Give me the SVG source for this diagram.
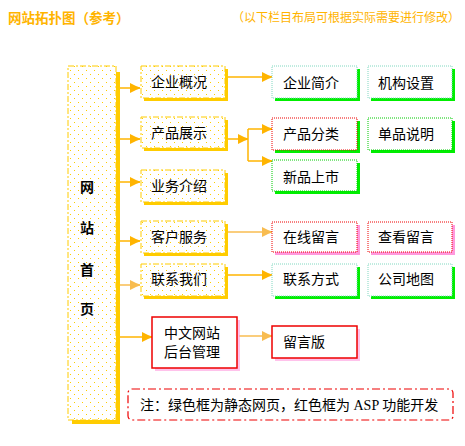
<svg xmlns="http://www.w3.org/2000/svg" width="465" height="446" viewBox="0 0 465 446">
<defs>
<pattern id="dots" width="8" height="8" patternUnits="userSpaceOnUse">
<rect x="2" y="2" width="1" height="1" fill="#FFCC00"/>
<rect x="6" y="6" width="1" height="1" fill="#FFCC00"/>
</pattern>
<marker id="ah" markerUnits="userSpaceOnUse" markerWidth="11" markerHeight="11" refX="10" refY="5" orient="auto">
<path d="M0,0 L6,3 L10,4.5 L10,5.5 L6,7 L0,10 Z" fill="#FFB400"/>
</marker>
<marker id="ahl" markerUnits="userSpaceOnUse" markerWidth="11" markerHeight="11" refX="10" refY="5" orient="auto">
<path d="M0,0 L6,3 L10,4.5 L10,5.5 L6,7 L0,10 Z" fill="#F8BC50"/>
</marker>
</defs>
<style>
text{font-family:"Liberation Serif","Noto Sans CJK SC",serif;font-size:14px;fill:#000}
.ttl{fill:#FFB400;font-weight:bold;font-size:13.5px}
.sub{fill:#FFB400;font-size:12px}
.col{font-weight:bold;text-anchor:middle}
.ysh{fill:#FFCC00}
.gsh{fill:#00EE00}
.psh{fill:#FF99DD}
.ybox{fill:url(#dots);stroke:#FFCC00;stroke-width:1;stroke-dasharray:6,2,2,2}
.gbox{fill:#fff;stroke:#00CC00;stroke-width:1;stroke-dasharray:1,1}
.tbox{fill:#fff;stroke:#80D8C0;stroke-width:1;stroke-dasharray:1,1}
.rbox{fill:#fff;stroke:#EE0000;stroke-width:1;stroke-dasharray:1,1}
.rsolid{fill:#fff;stroke:#EE0000;stroke-width:1.5}
.c{fill:none;stroke:#FFB400;stroke-width:1.5}
.cl{fill:none;stroke:#F8BC50;stroke-width:1.5}
.note{fill:#fff;stroke:#EE0000;stroke-width:1.2;stroke-dasharray:8,3,2,3}
</style>

<text class="ttl" x="8" y="23">网站拓扑图（参考）</text>
<text class="sub" x="232" y="22">（以下栏目布局可根据实际需要进行修改）</text>

<g id="connectors">
<path class="c" d="M120,88 H140" marker-end="url(#ah)"/>
<path class="c" d="M120,139 H140" marker-end="url(#ah)"/>
<path class="c" d="M120,182 H140" marker-end="url(#ah)"/>
<path class="c" d="M120,241 H140" marker-end="url(#ah)"/>
<path class="cl" d="M120,285 H140" marker-end="url(#ahl)"/>
<path class="c" d="M120,337 H152" marker-end="url(#ah)"/>
<path class="c" d="M228,77 H272" marker-end="url(#ah)"/>
<path class="c" d="M228,139 H248" marker-end="url(#ah)"/>
<path class="c" d="M248,129 V161"/>
<path class="c" d="M248,129 H272" marker-end="url(#ah)"/>
<path class="c" d="M248,161 H272" marker-end="url(#ah)"/>
<path class="cl" d="M228,232 H272" marker-end="url(#ahl)"/>
<path class="c" d="M228,275 H272" marker-end="url(#ah)"/>
<path class="cl" d="M239,336 H272" marker-end="url(#ahl)"/>
</g>

<g id="home">
<rect class="ysh" x="72" y="72" width="48" height="352"/>
<rect x="68" y="66" width="48" height="354" fill="#fff"/>
<rect class="ybox" x="68" y="66" width="48" height="354"/>
<text class="col" x="87" y="192">网</text>
<text class="col" x="87" y="233">站</text>
<text class="col" x="87" y="275">首</text>
<text class="col" x="87" y="314">页</text>
</g>

<g id="n-qygk">
<rect class="ysh" x="144" y="69" width="84" height="32"/>
<rect x="141" y="66" width="84" height="32" fill="#fff"/>
<rect class="ybox" x="141" y="66" width="84" height="32"/>
<text x="151" y="87">企业概况</text>
</g>
<g id="n-cpzs">
<rect class="ysh" x="144" y="120" width="84" height="31"/>
<rect x="141" y="117" width="84" height="31" fill="#fff"/>
<rect class="ybox" x="141" y="117" width="84" height="31"/>
<text x="151" y="138">产品展示</text>
</g>
<g id="n-ywjs">
<rect class="ysh" x="144" y="173" width="84" height="32"/>
<rect x="141" y="170" width="84" height="32" fill="#fff"/>
<rect class="ybox" x="141" y="170" width="84" height="32"/>
<text x="151" y="191">业务介绍</text>
</g>
<g id="n-khfw">
<rect class="ysh" x="144" y="224" width="84" height="32"/>
<rect x="141" y="221" width="84" height="32" fill="#fff"/>
<rect class="ybox" x="141" y="221" width="84" height="32"/>
<text x="151" y="242">客户服务</text>
</g>
<g id="n-lxwm">
<rect class="ysh" x="144" y="267" width="84" height="32"/>
<rect x="141" y="264" width="84" height="32" fill="#fff"/>
<rect class="ybox" x="141" y="264" width="84" height="32"/>
<text x="151" y="284">联系我们</text>
</g>
<g id="n-admin">
<rect class="psh" x="155" y="320" width="85" height="51" opacity="0.6"/>
<rect class="rsolid" x="152" y="317" width="85" height="51"/>
<text x="164" y="338">中文网站</text>
<text x="164" y="357">后台管理</text>
</g>

<g id="n-qyjj">
<rect class="gsh" x="275" y="69" width="85" height="32"/>
<rect class="tbox" x="272" y="66" width="85" height="32"/>
<text x="283" y="88">企业简介</text>
</g>
<g id="n-jgsz">
<rect class="gsh" x="371" y="69" width="84" height="32"/>
<rect class="tbox" x="368" y="66" width="84" height="32"/>
<text x="378" y="88">机构设置</text>
</g>
<g id="n-cpfl">
<rect class="gsh" x="275" y="121" width="85" height="32"/>
<rect class="rbox" x="272" y="118" width="85" height="32"/>
<text x="283" y="139">产品分类</text>
</g>
<g id="n-dpsm">
<rect class="gsh" x="371" y="121" width="84" height="32"/>
<rect class="gbox" x="368" y="118" width="84" height="32"/>
<text x="378" y="139">单品说明</text>
</g>
<g id="n-xpss">
<rect class="gsh" x="275" y="163" width="85" height="31"/>
<rect class="gbox" x="272" y="160" width="85" height="31"/>
<text x="283" y="182">新品上市</text>
</g>
<g id="n-zxly">
<rect class="psh" x="275" y="225" width="85" height="30"/>
<rect class="rbox" x="272" y="222" width="85" height="30"/>
<text x="283" y="242">在线留言</text>
</g>
<g id="n-ckly">
<rect class="psh" x="371" y="225" width="84" height="30"/>
<rect class="rbox" x="368" y="222" width="84" height="30"/>
<text x="378" y="242">查看留言</text>
</g>
<g id="n-lxfs">
<rect class="gsh" x="275" y="267" width="85" height="32"/>
<rect class="tbox" x="272" y="264" width="85" height="32"/>
<text x="283" y="284">联系方式</text>
</g>
<g id="n-gsdt">
<rect class="gsh" x="371" y="267" width="84" height="32"/>
<rect class="tbox" x="368" y="264" width="84" height="32"/>
<text x="378" y="284">公司地图</text>
</g>
<g id="n-lyb">
<rect class="psh" x="275" y="329" width="85" height="32" opacity="0.6"/>
<rect class="rsolid" x="272" y="326" width="85" height="32"/>
<text x="283" y="347">留言版</text>
</g>

<g id="note">
<rect class="note" x="128" y="389" width="325" height="31" rx="4"/>
<text x="140" y="410">注：绿色框为静态网页，红色框为 ASP 功能开发</text>
</g>
</svg>
